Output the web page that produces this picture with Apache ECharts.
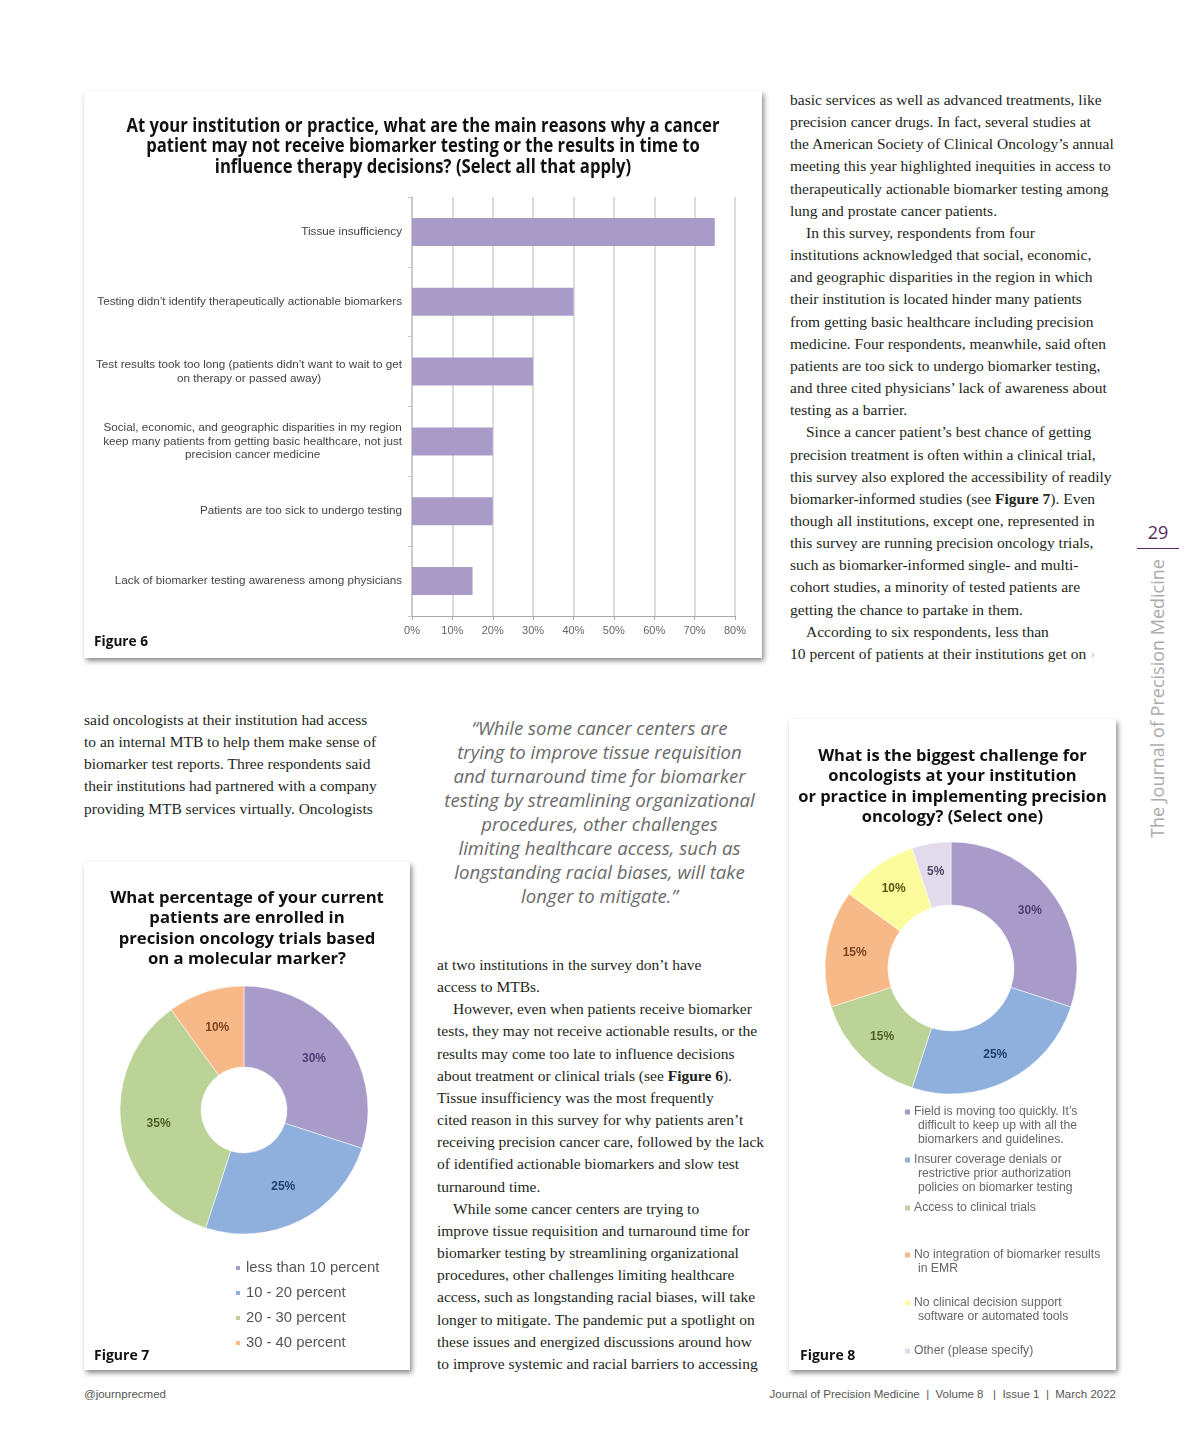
<!DOCTYPE html>
<html>
<head>
<meta charset="utf-8">
<script src="https://cdn.jsdelivr.net/npm/echarts/dist/echarts.min.js"></script>
<style>
  html, body { margin: 0; padding: 0; background: #fff; }
  body { position: relative; width: 1200px; height: 1446px; overflow: hidden; }
  .box { position: absolute; background: #fff; box-shadow: 2px 3px 5px rgba(0,0,0,0.45); }
  .col { position: absolute; font-family: "Liberation Serif", "Times New Roman", serif; font-size: 15.5px;
         line-height: 22.16px; color: #231f20; white-space: nowrap; }
  .ind { display: inline-block; width: 16px; }
  .quote { position: absolute; left: 437px; width: 325px; top: 716px; text-align: center;
           font-family: "Open Sans", sans-serif; font-style: italic; font-size: 18.6px; line-height: 24px;
           color: #6a6a6a; white-space: nowrap; }
  .pnum { position: absolute; left: 1137px; width: 42px; top: 519px; text-align: center;
          font-family: "Open Sans", sans-serif; font-size: 18px; color: #5b2a5e; line-height: 26px; }
  .prule { position: absolute; left: 1137px; width: 42px; top: 548px; height: 1px; background: #5b2a5e; }
  .vtitle { position: absolute; left: 1019px; top: 688px; width: 276px; height: 24px; line-height: 24px;
            text-align: center; transform: rotate(-90deg); font-family: "Open Sans", sans-serif;
            font-size: 18px; color: #ababab; white-space: nowrap; }
  .foot { position: absolute; top: 1386px; font-family: "Liberation Sans", Arial, sans-serif;
          font-size: 11.5px; color: #555; line-height: 16px; white-space: nowrap; }
</style>
</head>
<body>

<div class="box" style="left:84px;top:91px;width:678px;height:567px;"><div id="fig6" style="width:678px;height:567px;"></div></div>
<div class="box" style="left:84px;top:862px;width:326px;height:508px;"><div id="fig7" style="width:326px;height:508px;"></div></div>
<div class="box" style="left:789px;top:719px;width:327px;height:651px;"><div id="fig8" style="width:327px;height:651px;"></div></div>

<div class="col" style="left:790px;top:89px;">
basic services as well as advanced treatments, like<br>
precision cancer drugs. In fact, several studies at<br>
the American Society of Clinical Oncology’s annual<br>
meeting this year highlighted inequities in access to<br>
therapeutically actionable biomarker testing among<br>
lung and prostate cancer patients.<br>
<span class="ind"></span>In this survey, respondents from four<br>
institutions acknowledged that social, economic,<br>
and geographic disparities in the region in which<br>
their institution is located hinder many patients<br>
from getting basic healthcare including precision<br>
medicine. Four respondents, meanwhile, said often<br>
patients are too sick to undergo biomarker testing,<br>
and three cited physicians’ lack of awareness about<br>
testing as a barrier.<br>
<span class="ind"></span>Since a cancer patient’s best chance of getting<br>
precision treatment is often within a clinical trial,<br>
this survey also explored the accessibility of readily<br>
biomarker-informed studies (see <b>Figure 7</b>). Even<br>
though all institutions, except one, represented in<br>
this survey are running precision oncology trials,<br>
such as biomarker-informed single- and multi-<br>
cohort studies, a minority of tested patients are<br>
getting the chance to partake in them.<br>
<span class="ind"></span>According to six respondents, less than<br>
10 percent of patients at their institutions get on <span style="color:#c8c8c8;">›</span>
</div>

<div class="col" style="left:84px;top:709px;">
said oncologists at their institution had access<br>
to an internal MTB to help them make sense of<br>
biomarker test reports. Three respondents said<br>
their institutions had partnered with a company<br>
providing MTB services virtually. Oncologists
</div>

<div class="quote">
“While some cancer centers are<br>
trying to improve tissue requisition<br>
and turnaround time for biomarker<br>
testing by streamlining organizational<br>
procedures, other challenges<br>
limiting healthcare access, such as<br>
longstanding racial biases, will take<br>
longer to mitigate.”
</div>

<div class="col" style="left:437px;top:954px;">
at two institutions in the survey don’t have<br>
access to MTBs.<br>
<span class="ind"></span>However, even when patients receive biomarker<br>
tests, they may not receive actionable results, or the<br>
results may come too late to influence decisions<br>
about treatment or clinical trials (see <b>Figure 6</b>).<br>
Tissue insufficiency was the most frequently<br>
cited reason in this survey for why patients aren’t<br>
receiving precision cancer care, followed by the lack<br>
of identified actionable biomarkers and slow test<br>
turnaround time.<br>
<span class="ind"></span>While some cancer centers are trying to<br>
improve tissue requisition and turnaround time for<br>
biomarker testing by streamlining organizational<br>
procedures, other challenges limiting healthcare<br>
access, such as longstanding racial biases, will take<br>
longer to mitigate. The pandemic put a spotlight on<br>
these issues and energized discussions around how<br>
to improve systemic and racial barriers to accessing
</div>

<div class="pnum">29</div>
<div class="prule"></div>
<div class="vtitle">The Journal of Precision Medicine</div>

<div class="foot" style="left:84px;">@journprecmed</div>
<div class="foot" style="right:84px;">Journal of Precision Medicine &nbsp;|&nbsp; Volume 8 &nbsp; |&nbsp; Issue 1 &nbsp;|&nbsp; March 2022</div>

<script>
// ---------- Figure 6 data ----------
const reasonLabels = [
  'Tissue insufficiency',
  'Testing didn’t identify therapeutically actionable biomarkers',
  'Test results took too long (patients didn’t want to wait to get\non therapy or passed away)',
  'Social, economic, and geographic disparities in my region\nkeep many patients from getting basic healthcare, not just\nprecision cancer medicine',
  'Patients are too sick to undergo testing',
  'Lack of biomarker testing awareness among physicians'
];
const reasonShares = [75, 40, 30, 20, 20, 15];
const shareAxisMin = 0;
const shareAxisMax = 80;
const shareAxisStep = 10;

// ---------- Figure 7 data ----------
const enrollBands = ['less than 10 percent', '10 - 20 percent', '20 - 30 percent', '30 - 40 percent'];
const enrollShares = [30, 25, 35, 10];

// ---------- Figure 8 data ----------
const challengeNames = [
  'Field is moving too quickly. It’s\ndifficult to keep up with all the\nbiomarkers and guidelines.',
  'Insurer coverage denials or\nrestrictive prior authorization\npolicies on biomarker testing',
  'Access to clinical trials',
  'No integration of biomarker results\nin EMR',
  'No clinical decision support\nsoftware or automated tools',
  'Other (please specify)'
];
const challengeShares = [30, 25, 15, 15, 10, 5];

// ---------- styles ----------
const sliceColors = ['#a99bc9', '#8fb0dc', '#bcd398', '#f8b988', '#fdfc9c', '#e1dbec'];
const labelColors = ['#4e3d73', '#1f3f6d', '#4c5f26', '#7a431c', '#55550f', '#4d4866'];
const fig7Colors = ['#a99bc9', '#8fb0dc', '#bcd398', '#f8b988'];
const fig7LabelColors = ['#4e3d73', '#1f3f6d', '#4c5f26', '#7a431c'];
const sansTitle = '"Open Sans", "Noto Sans", sans-serif';
const arial = '"Liberation Sans", Arial, sans-serif';

// measure helper for horizontally condensed text
const mctx = document.createElement('canvas').getContext('2d');
function textWidth(str, font) { mctx.font = font; return mctx.measureText(str).width; }

// ---------- Figure 6 ----------
const fig6TitleLines = [
  'At your institution or practice, what are the main reasons why a cancer',
  'patient may not receive biomarker testing or the results in time to',
  'influence therapy decisions? (Select all that apply)'
];
const fig6TitleFont = 'bold 19px "Open Sans"';
const fig6TitleScale = 593 / textWidth(fig6TitleLines[0], fig6TitleFont);
const fig6LabelFont = 'bold 15px "Open Sans"';
const fig6LabelScale = 54 / textWidth('Figure 6', fig6LabelFont);

const fig6 = echarts.init(document.getElementById('fig6'), null, { renderer: 'canvas' });
fig6.setOption({
  animation: false,
  graphic: [{
    type: 'text', x: 339, y: 25, scaleX: fig6TitleScale,
    style: { text: fig6TitleLines.join('\n'), font: fig6TitleFont, fill: '#111',
             align: 'center', verticalAlign: 'top', lineHeight: 20.7 }
  }, {
    type: 'text', x: 10, y: 551, scaleX: fig6LabelScale,
    style: { text: 'Figure 6', font: fig6LabelFont, fill: '#111', align: 'left', verticalAlign: 'middle' }
  }],
  grid: { left: 328, right: 27, top: 106, bottom: 42 },
  xAxis: {
    type: 'value', min: shareAxisMin, max: shareAxisMax, interval: shareAxisStep,
    axisLabel: { formatter: '{value}%', color: '#666', fontSize: 11, margin: 9, fontFamily: arial },
    axisLine: { show: true, lineStyle: { color: '#a8a8a8', width: 1 } },
    axisTick: { show: true, length: 4, lineStyle: { color: '#a8a8a8' } },
    splitLine: { show: true, lineStyle: { color: '#cfcfcf', width: 1.5 } }
  },
  yAxis: {
    type: 'category', inverse: true, data: reasonLabels,
    axisLine: { show: true, lineStyle: { color: '#c4c4c4', width: 1.5 } },
    axisTick: { show: true, length: 4, lineStyle: { color: '#c4c4c4' } },
    axisLabel: {
      margin: 10,
      formatter: v => v.split('\n').map(s => '{c|' + s + '}').join('\n'),
      rich: { c: { align: 'center', fontSize: 11.7, lineHeight: 13.5, color: '#444', fontFamily: arial } }
    }
  },
  series: [{
    type: 'bar', data: reasonShares, barWidth: 28,
    itemStyle: { color: '#a99bc8' }
  }]
});

// ---------- Figure 7 ----------
const fig7 = echarts.init(document.getElementById('fig7'), null, { renderer: 'canvas' });
fig7.setOption({
  animation: false,
  title: {
    text: 'What percentage of your current\npatients are enrolled in\nprecision oncology trials based\non a molecular marker?',
    left: 'center', top: 26, padding: 0,
    textStyle: { fontFamily: sansTitle, fontWeight: 'bold', fontSize: 16.7, lineHeight: 20.4, color: '#111' }
  },
  graphic: [{
    type: 'text', x: 10, y: 494,
    style: { text: 'Figure 7', font: 'bold 14px ' + sansTitle, fill: '#111', align: 'left', verticalAlign: 'middle' }
  }],
  legend: {
    orient: 'vertical', left: 150, top: 398, padding: 0, itemGap: 9,
    itemWidth: 6, itemHeight: 6, icon: 'rect',
    data: enrollBands,
    textStyle: { fontSize: 14.8, lineHeight: 16, color: '#555', fontFamily: arial }
  },
  series: [{
    type: 'pie', center: [160, 248], radius: [43, 124],
    startAngle: 90, clockwise: true,
    label: { show: true, position: 'inside', formatter: '{c}%', fontSize: 12, fontWeight: 'bold', fontFamily: arial },
    labelLine: { show: false },
    itemStyle: { borderColor: '#fff', borderWidth: 0.5 },
    data: enrollBands.map((n, i) => ({
      name: n, value: enrollShares[i],
      itemStyle: { color: fig7Colors[i] },
      label: { color: fig7LabelColors[i] }
    }))
  }]
});

// ---------- Figure 8 ----------
const fig8 = echarts.init(document.getElementById('fig8'), null, { renderer: 'canvas' });
const legendTops = [386, 434, 482, 529, 577, 625];
const fig8Legends = challengeNames.map((name, i) => {
  const rich = {
    s: { width: 9, lineHeight: 14 },
    t: { fontSize: 12.2, lineHeight: 14, color: '#666', fontFamily: arial, padding: [0, 0, 0, 4] }
  };
  rich['m' + i] = { width: 5, height: 5, lineHeight: 14, backgroundColor: sliceColors[i] };
  return {
    orient: 'vertical', left: 111, top: legendTops[i], padding: 0,
    itemWidth: 0, itemHeight: 5, icon: 'none',
    data: [name],
    formatter: nm => nm.split('\n').map((ln, k) =>
      (k === 0 ? '{m' + i + '| }' : '{s| }') + '{t|' + ln + '}').join('\n'),
    textStyle: { fontSize: 12.2, lineHeight: 14, color: '#666', fontFamily: arial, rich: rich }
  };
});
fig8.setOption({
  animation: false,
  title: {
    text: 'What is the biggest challenge for\noncologists at your institution\nor practice in implementing precision\noncology? (Select one)',
    left: 'center', top: 27, padding: 0,
    textStyle: { fontFamily: sansTitle, fontWeight: 'bold', fontSize: 16.5, lineHeight: 20.5, color: '#111' }
  },
  graphic: [{
    type: 'text', x: 11, y: 637,
    style: { text: 'Figure 8', font: 'bold 14px ' + sansTitle, fill: '#111', align: 'left', verticalAlign: 'middle' }
  }],
  legend: fig8Legends,
  series: [{
    type: 'pie', center: [162, 249], radius: [63, 126],
    startAngle: 90, clockwise: true,
    label: { show: true, position: 'inside', formatter: '{c}%', fontSize: 12, fontWeight: 'bold', fontFamily: arial },
    labelLine: { show: false },
    itemStyle: { borderColor: '#fff', borderWidth: 0.5 },
    data: challengeNames.map((n, i) => ({
      name: n, value: challengeShares[i],
      itemStyle: { color: sliceColors[i] },
      label: { color: labelColors[i] }
    }))
  }]
});
</script>
</body>
</html>
